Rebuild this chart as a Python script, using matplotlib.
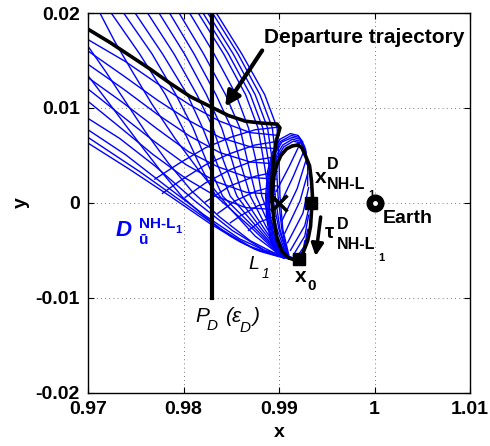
import matplotlib
matplotlib.use('Agg')
import matplotlib.pyplot as plt
from matplotlib.transforms import ScaledTranslation

# ---- data (rotating frame, x / y) ----
xticks = [0.97, 0.98, 0.99, 1.0, 1.01]
xtick_labels = ['0.97', '0.98', '0.99', '1', '1.01']
yticks = [-0.02, -0.01, 0.0, 0.01, 0.02]
ytick_labels = ['-0.02', '-0.01', '0', '0.01', '0.02']

# periodic orbit around L1
orbit_x = [0.9920, 0.9924, 0.9928, 0.9932, 0.9934, 0.9935, 0.9934, 0.9933, 0.9930, 0.9925,
           0.9921, 0.9916, 0.9910, 0.9903, 0.9898, 0.9895, 0.9893, 0.9893, 0.9895, 0.9898,
           0.9902, 0.9908, 0.9914, 0.9920]
orbit_y = [0.0061, 0.0058, 0.0049, 0.0039, 0.0023, 0.0007, -0.0009, -0.0025, -0.0040, -0.0053,
           -0.0059, -0.0060, -0.0058, -0.0051, -0.0038, -0.0021, -0.0003, 0.0012, 0.0030, 0.0041,
           0.0050, 0.0057, 0.0060, 0.0061]

# departure trajectory
dep_x = [0.9700, 0.9723, 0.9744, 0.9765, 0.9786, 0.9807, 0.9831, 0.9847, 0.9865, 0.9882,
         0.9898, 0.9901, 0.9897, 0.9894, 0.9892, 0.9892]
dep_y = [0.0183, 0.0169, 0.0155, 0.0141, 0.0126, 0.0112, 0.0100, 0.0092, 0.0086, 0.0084,
         0.0083, 0.0079, 0.0065, 0.0044, 0.0018, 0.0002]

# unstable manifold: lower wall bundle
lower_x = [[0.9918, 0.9901, 0.9880, 0.9859, 0.9828, 0.9786, 0.9744, 0.9700],
           [0.9917, 0.9896, 0.9870, 0.9838, 0.9796, 0.9754, 0.9700],
           [0.9916, 0.9891, 0.9859, 0.9822, 0.9780, 0.9739, 0.9700],
           [0.9915, 0.9885, 0.9851, 0.9812, 0.9770, 0.9733, 0.9700]]
lower_y = [[-0.0059, -0.0057, -0.0051, -0.0041, -0.0022, 0.0007, 0.0035, 0.0063],
           [-0.0059, -0.0055, -0.0046, -0.0027, 0.0003, 0.0033, 0.0069],
           [-0.0058, -0.0053, -0.0038, -0.0013, 0.0019, 0.0051, 0.0077],
           [-0.0058, -0.0050, -0.0029, 0.0002, 0.0039, 0.0068, 0.0089]]

# steep fan from x0 to the top edge (all share the same y samples)
fan_y = [-0.0058, -0.0028, 0.0007, 0.0044, 0.0079, 0.0114, 0.0157, 0.0199]
fan_x = [[0.9911, 0.9904, 0.9901, 0.9900, 0.9898, 0.9885, 0.9861, 0.9835],
         [0.9910, 0.9903, 0.9899, 0.9897, 0.9893, 0.9880, 0.9857, 0.9831],
         [0.9910, 0.9901, 0.9896, 0.9893, 0.9888, 0.9875, 0.9852, 0.9826],
         [0.9910, 0.9900, 0.9893, 0.9889, 0.9883, 0.9870, 0.9847, 0.9821],
         [0.9909, 0.9898, 0.9890, 0.9884, 0.9878, 0.9865, 0.9842, 0.9816],
         [0.9909, 0.9895, 0.9882, 0.9876, 0.9868, 0.9855, 0.9832, 0.9807],
         [0.9908, 0.9892, 0.9876, 0.9867, 0.9859, 0.9844, 0.9821, 0.9796],
         [0.9908, 0.9888, 0.9870, 0.9859, 0.9850, 0.9834, 0.9811, 0.9786],
         [0.9906, 0.9885, 0.9862, 0.9851, 0.9840, 0.9824, 0.9801, 0.9775],
         [0.9906, 0.9882, 0.9856, 0.9842, 0.9831, 0.9814, 0.9790, 0.9763],
         [0.9905, 0.9879, 0.9849, 0.9834, 0.9820, 0.9804, 0.9778, 0.9750],
         [0.9905, 0.9876, 0.9841, 0.9824, 0.9810, 0.9792, 0.9767, 0.9738],
         [0.9904, 0.9873, 0.9834, 0.9815, 0.9799, 0.9781, 0.9754, 0.9725]]

# steep branches leaving through the left edge
steep_x = [[0.9906, 0.9875, 0.9849, 0.9823, 0.9799, 0.9775, 0.9752, 0.9728, 0.9700],
           [0.9905, 0.9870, 0.9838, 0.9809, 0.9784, 0.9760, 0.9739, 0.9718, 0.9700],
           [0.9905, 0.9875, 0.9847, 0.9817, 0.9791, 0.9767, 0.9746, 0.9728, 0.9713]]
steep_y = [[-0.0058, -0.0049, -0.0035, -0.0015, 0.0006, 0.0035, 0.0065, 0.0097, 0.0134],
           [-0.0058, -0.0040, -0.0015, 0.0012, 0.0042, 0.0075, 0.0107, 0.0139, 0.0165],
           [-0.0058, -0.0035, -0.0004, 0.0033, 0.0068, 0.0104, 0.0139, 0.0170, 0.0199]]

# shallow branches from the orbit side to the left edge
shallow_x = [[0.9900, 0.9870, 0.9838, 0.9807, 0.9775, 0.9739, 0.9700],
             [0.9899, 0.9870, 0.9838, 0.9807, 0.9773, 0.9737, 0.9700],
             [0.9898, 0.9870, 0.9838, 0.9807, 0.9773, 0.9737, 0.9700],
             [0.9897, 0.9867, 0.9836, 0.9805, 0.9771, 0.9736, 0.9700],
             [0.9896, 0.9866, 0.9835, 0.9803, 0.9769, 0.9735, 0.9700],
             [0.9895, 0.9865, 0.9834, 0.9802, 0.9768, 0.9733, 0.9700]]
shallow_y = [[0.0071, 0.0074, 0.0086, 0.0103, 0.0124, 0.0149, 0.0172],
             [0.0057, 0.0059, 0.0069, 0.0086, 0.0108, 0.0134, 0.0160],
             [0.0041, 0.0043, 0.0053, 0.0070, 0.0093, 0.0120, 0.0146],
             [0.0025, 0.0027, 0.0038, 0.0054, 0.0079, 0.0106, 0.0132],
             [0.0009, 0.0011, 0.0022, 0.0040, 0.0065, 0.0092, 0.0120],
             [-0.0007, -0.0005, 0.0007, 0.0026, 0.0051, 0.0080, 0.0107]]

# branches dropping from the orbit side towards the lower wall
drop_x = [[0.9901, 0.9875, 0.9849, 0.9823, 0.9796, 0.9770],
          [0.9900, 0.9875, 0.9849, 0.9823, 0.9796, 0.9778],
          [0.9899, 0.9875, 0.9849, 0.9823, 0.9802],
          [0.9898, 0.9875, 0.9849, 0.9823],
          [0.9897, 0.9875, 0.9854, 0.9836],
          [0.9896, 0.9878, 0.9859, 0.9849],
          [0.9896, 0.9880, 0.9868]]
drop_y = [[0.0080, 0.0077, 0.0069, 0.0058, 0.0042, 0.0025],
          [0.0065, 0.0061, 0.0052, 0.0040, 0.0023, 0.0010],
          [0.0049, 0.0045, 0.0035, 0.0021, 0.0006],
          [0.0033, 0.0028, 0.0018, 0.0001],
          [0.0018, 0.0012, 0.0002, -0.0011],
          [0.0002, -0.0003, -0.0014, -0.0021],
          [-0.0014, -0.0020, -0.0029]]

# arcs inside the orbit
arc_x = [[0.9920, 0.9911, 0.9897], [0.9925, 0.9915, 0.9900], [0.9928, 0.9919, 0.9903],
         [0.9930, 0.9922, 0.9906], [0.9931, 0.9925, 0.9909], [0.9933, 0.9927, 0.9912],
         [0.9931, 0.9927, 0.9915], [0.9930, 0.9927, 0.9918], [0.9927, 0.9925, 0.9921]]
arc_y = [[0.0058, 0.0039, 0.0012], [0.0052, 0.0028, -0.0004], [0.0044, 0.0015, -0.0019],
         [0.0031, 0.0002, -0.0032], [0.0016, -0.0011, -0.0042], [0.0002, -0.0024, -0.0050],
         [-0.0013, -0.0035, -0.0055], [-0.0028, -0.0045, -0.0058], [-0.0040, -0.0051, -0.0058]]

# spiral band hugging the orbit
band_x = [[0.9914, 0.9903, 0.9895, 0.9891, 0.9889, 0.9892, 0.9897, 0.9905, 0.9915, 0.9923, 0.9928, 0.9930, 0.9930],
          [0.9913, 0.9902, 0.9894, 0.9890, 0.9889, 0.9891, 0.9896, 0.9904, 0.9914, 0.9922, 0.9928, 0.9929],
          [0.9912, 0.9901, 0.9893, 0.9889, 0.9888, 0.9890, 0.9895, 0.9903, 0.9914, 0.9922, 0.9927, 0.9929],
          [0.9911, 0.9900, 0.9892, 0.9888, 0.9887, 0.9889, 0.9894, 0.9902, 0.9913, 0.9921, 0.9926],
          [0.9910, 0.9899, 0.9891, 0.9887, 0.9886, 0.9888, 0.9893, 0.9901, 0.9912, 0.9920, 0.9925]]
band_y = [[-0.0059, -0.0053, -0.0036, -0.0014, 0.0007, 0.0028, 0.0046, 0.0059, 0.0065, 0.0063, 0.0054, 0.0039, 0.0018],
          [-0.0059, -0.0054, -0.0037, -0.0014, 0.0007, 0.0030, 0.0048, 0.0061, 0.0067, 0.0065, 0.0056, 0.0041],
          [-0.0059, -0.0054, -0.0038, -0.0014, 0.0007, 0.0031, 0.0050, 0.0064, 0.0069, 0.0067, 0.0059, 0.0044],
          [-0.0059, -0.0055, -0.0039, -0.0015, 0.0007, 0.0032, 0.0051, 0.0065, 0.0071, 0.0069, 0.0061],
          [-0.0059, -0.0055, -0.0040, -0.0016, 0.0007, 0.0033, 0.0053, 0.0067, 0.0073, 0.0071, 0.0064]]

L1_pt = (0.9900, 0.0)
xD_pt = (0.9934, 0.0)
x0_pt = (0.9921, -0.0059)
earth_pt = (1.0, 0.0)
PD_x = 0.983
PD_y = [-0.01, 0.02]

plt.rcParams['font.family'] = 'Liberation Sans'
plt.rcParams['font.weight'] = 'bold'

fig = plt.figure(figsize=(4.9, 4.46), dpi=100)
ax = fig.add_axes([0.1796, 0.1195, 0.7796, 0.8513])

blue = '#0000ff'
for xs, ys in zip(lower_x, lower_y):
	ax.plot(xs, ys, color=blue, lw=1.0)
for xs in fan_x:
	ax.plot(xs, fan_y, color=blue, lw=1.0)
for xs, ys in zip(steep_x, steep_y):
	ax.plot(xs, ys, color=blue, lw=1.0)
for xs, ys in zip(shallow_x, shallow_y):
	ax.plot(xs, ys, color=blue, lw=1.0)
for xs, ys in zip(drop_x, drop_y):
	ax.plot(xs, ys, color=blue, lw=1.0)
for xs, ys in zip(arc_x, arc_y):
	ax.plot(xs, ys, color=blue, lw=1.0)
for xs, ys in zip(band_x, band_y):
	ax.plot(xs, ys, color=blue, lw=1.0)

ax.plot(orbit_x, orbit_y, color='k', lw=2.6)
ax.plot(dep_x, dep_y, color='k', lw=2.6)
ax.plot([PD_x, PD_x], PD_y, color='k', lw=3)

ax.plot(*L1_pt, marker='x', ms=11, mew=2.5, color='k')
ax.plot(*xD_pt, marker='s', ms=8, color='k')
ax.plot(*x0_pt, marker='s', ms=8, color='k')
ax.plot(*earth_pt, marker='o', ms=12, color='k')
ax.plot(*earth_pt, marker='o', ms=2.5, color='w', mec='w')

ax.annotate('', xy=(0.9842, 0.0099), xytext=(0.9884, 0.0163),
	arrowprops=dict(arrowstyle='-|>', lw=3, color='k', mutation_scale=22))
ax.annotate('', xy=(0.9938, -0.0059), xytext=(0.9944, -0.0012),
	arrowprops=dict(arrowstyle='-|>', lw=2.5, color='k', mutation_scale=18))

def label(x, y, parts, color='k'):
	for s, dx, dy, size, style, weight in parts:
		tr = ax.transData + ScaledTranslation(dx / 100., -dy / 100., fig.dpi_scale_trans)
		ax.text(x, y, s, transform=tr, fontsize=size, fontstyle=style, fontweight=weight,
			color=color, ha='left', va='baseline', clip_on=False)

label(0.9884, 0.0168, [('Departure trajectory', 0, 0, 15, 'normal', 'bold')])
label(0.9938, 0.0021, [('x', 0, 0, 15, 'normal', 'bold'), ('D', 12, -14, 11.5, 'normal', 'bold'),
	('NH-L', 12, 6, 11.5, 'normal', 'bold'), ('1', 53, 15, 8, 'normal', 'bold')])
label(0.9948, -0.0037, [('\u03c4', 0, 0, 15, 'normal', 'bold'), ('D', 12, -9, 11.5, 'normal', 'bold'),
	('NH-L', 12, 11, 11.5, 'normal', 'bold'), ('1', 53, 23, 8, 'normal', 'bold')])
label(0.9868, -0.0070, [('L', 0, 0, 14, 'italic', 'normal'), ('1', 13, 9, 10, 'italic', 'normal')])
label(0.9917, -0.0083, [('x', 0, 0, 15, 'normal', 'bold'), ('0', 12, 8, 11, 'normal', 'bold')])
label(1.0009, -0.0021, [('Earth', 0, 0, 14, 'normal', 'bold')])
label(0.9729, -0.0035, [('D', 0, 0, 16, 'italic', 'bold'), ('NH-L', 23, -8, 11, 'normal', 'bold'),
	('1', 60, -3, 8, 'normal', 'bold'), ('\u016b', 23, 8, 11, 'normal', 'bold')], color=blue)
label(0.9812, -0.0125, [('P', 0, 0, 15, 'italic', 'normal'), ('D', 12, 8, 11, 'italic', 'normal'),
	('(\u03b5', 30, 0, 15, 'italic', 'normal'), ('D', 45, 10, 11, 'italic', 'normal'),
	(')', 57, 0, 15, 'italic', 'normal')])

ax.set_xlim(0.97, 1.01)
ax.set_ylim(-0.02, 0.02)
ax.set_xticks(xticks)
ax.set_xticklabels(xtick_labels)
ax.set_yticks(yticks)
ax.set_yticklabels(ytick_labels)
ax.tick_params(direction='in', length=4, width=0.8, top=True, right=True, labelsize=14, pad=6)
ax.grid(True, color='0.3', lw=0.6, dashes=(1, 4))
for sp in ax.spines.values():
	sp.set_linewidth(1.0)
ax.set_xlabel('x', fontsize=14, fontweight='bold', labelpad=4)
ax.set_ylabel('y', fontsize=14, fontweight='bold', labelpad=4)

fig.savefig('out.png', dpi=100)
